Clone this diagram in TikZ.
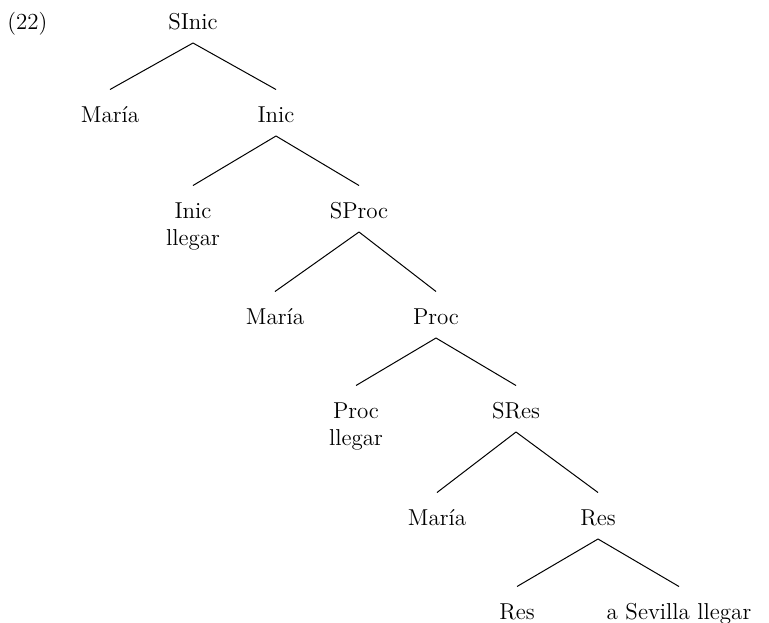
\documentclass[tikz,border=0pt]{standalone}
\usetikzlibrary{calc}
\tikzset{
    cat/.style = {anchor=base, inner sep=0pt, align=center,
                  font=\fontsize{11.5}{13.25}\selectfont
    },
    branch/.style = {line width=0.5pt},
}
\begin{document}
\begin{tikzpicture}[x=0.5pt, y=-0.5pt]
        \useasboundingbox (0,0) rectangle (769,622);
        \node (ex) [cat, anchor=base west] at (7,29.5) {(22)};
        % tree, top to bottom (two-line nodes sit on their last line)
        \node (sinic)  [cat] at (193,29.5)  {SInic};
        \node (maria1) [cat] at (110,122.5) {María};
        \node (inic)   [cat] at (276,122.5) {Inic};
        \node (inicv)  [cat] at (193,245)   {Inic\\llegar};
        \node (sproc)  [cat] at (359,218.5) {SProc};
        \node (maria2) [cat] at (275,324.5) {María};
        \node (proc)   [cat] at (436,324.5) {Proc};
        \node (procv)  [cat] at (356,445)   {Proc\\llegar};
        \node (sres)   [cat] at (516,418.5) {SRes};
        \node (maria3) [cat] at (437,525.5) {María};
        \node (res)    [cat] at (598,525.5) {Res};
        \node (resh)   [cat] at (517,619.5) {Res};
        \node (goal)   [cat] at (679,619.5) {a Sevilla llegar};
        \foreach \p/\c/\d in {sinic/maria1/33, sinic/inic/33, inic/inicv/59.5,
                              inic/sproc/33, sproc/maria2/33, sproc/proc/33,
                              proc/procv/59.5, proc/sres/33, sres/maria3/33,
                              sres/res/33, res/resh/33, res/goal/33}
            \draw [branch] ($(\p.base)+(0,13.5)$) -- ($(\c.base)+(0,-\d)$);
\end{tikzpicture}
\end{document}
